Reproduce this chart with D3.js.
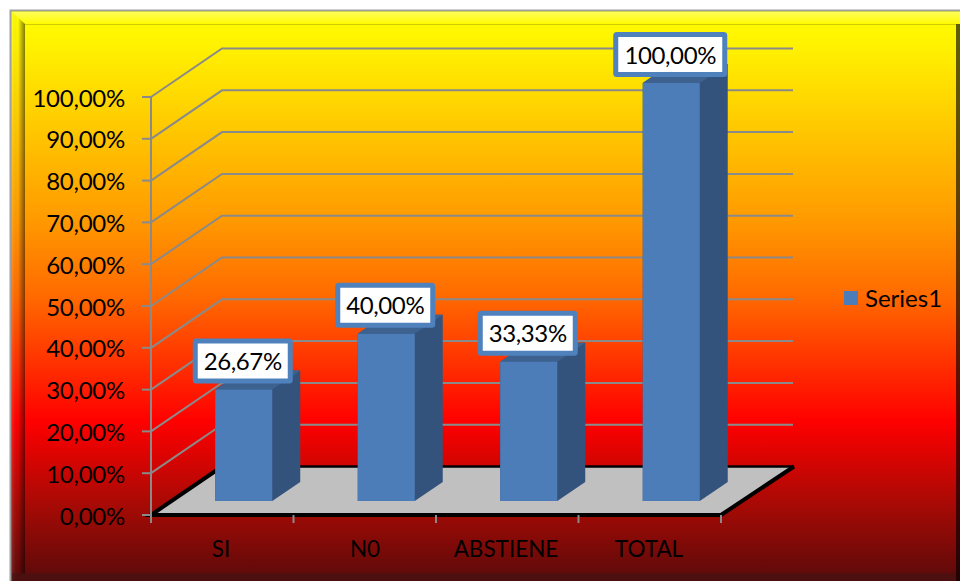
<!DOCTYPE html>
<html><head><meta charset="utf-8">
<script src="https://cdn.jsdelivr.net/npm/d3@7"></script>
<style>html,body{margin:0;padding:0;background:#fff}svg{display:block}text{font-family:Lato,"Open Sans",sans-serif;fill:#000}</style>
</head><body><svg id="c" width="960" height="581"></svg>
<script>
const categories = ["SI","N0","ABSTIENE","TOTAL"];
const values = [26.67,40,33.33,100];
const labels = ["26,67%","40,00%","33,33%","100,00%"];
const ticks = [0,10,20,30,40,50,60,70,80,90,100];
const tickLabels = ["0,00%","10,00%","20,00%","30,00%","40,00%","50,00%","60,00%","70,00%","80,00%","90,00%","100,00%"];
const seriesName = "Series1";

const W=960,H=581;
const svg=d3.select("#c");
const defs=svg.append("defs");
const g=defs.append("linearGradient").attr("id","bg").attr("x1",0).attr("x2",0).attr("y1",0).attr("y2",1);
[[0,"#ffff00"],[0.06,"#fff200"],[0.36,"#ff9c00"],[0.5,"#ff6a00"],[0.72,"#ff0000"],[0.87,"#a50a05"],[1,"#5a0a0a"]]
 .forEach(d=>g.append("stop").attr("offset",d[0]).attr("stop-color",d[1]));
const lb=defs.append("linearGradient").attr("id","lb");
lb.append("stop").attr("offset",0).attr("stop-color","#fff").attr("stop-opacity",.12);
lb.append("stop").attr("offset",.45).attr("stop-color","#000").attr("stop-opacity",0);
lb.append("stop").attr("offset",1).attr("stop-color","#000").attr("stop-opacity",.5);
const tb=defs.append("linearGradient").attr("id","tb").attr("x1",0).attr("x2",0).attr("y1",0).attr("y2",1);
tb.append("stop").attr("offset",0).attr("stop-color","#fff").attr("stop-opacity",.35);
tb.append("stop").attr("offset",1).attr("stop-color","#fff").attr("stop-opacity",0);

// frame
svg.append("rect").attr("x",11).attr("y",11).attr("width",W-11).attr("height",H-11).attr("fill","url(#bg)");
svg.append("path").attr("d","M10.5,581V10.5H960").attr("fill","none").attr("stroke","#a0a0a0").attr("stroke-width",2);
svg.append("path").attr("d","M12,12H960V24H25Z").attr("fill","url(#tb)");
svg.append("path").attr("d","M12,12L25,24V573L12,581Z").attr("fill","url(#lb)");
svg.append("path").attr("d","M25,24.5H956").attr("stroke","#000").attr("stroke-opacity",.18).attr("fill","none");
svg.append("rect").attr("x",956).attr("y",24).attr("width",4).attr("height",H-24).attr("fill","#000").attr("fill-opacity",.62);
svg.append("rect").attr("x",12).attr("y",573).attr("width",944).attr("height",8).attr("fill","#401414").attr("fill-opacity",.55);

// scales
const y=d3.scaleLinear().domain([0,100]).range([515,97]);
const x=d3.scaleBand().domain(categories).range([151,721]);
const depth={x:71,y:-48.5};
const barInset={x:21.5,y:-14};
const barW=57, barD={x:28,y:-19};

// floor
svg.append("path").attr("d",`M${x.range()[0]},${y(0)}L${x.range()[0]+depth.x},${y(0)+depth.y}H${x.range()[1]+depth.x}L${x.range()[1]},${y(0)}Z`)
 .attr("fill","#c0c0c0").attr("stroke","none");
svg.append("path").attr("d",`M${x.range()[0]+depth.x},${y(0)+depth.y}H${x.range()[1]+depth.x+2}`).attr("stroke","#000").attr("stroke-width",2.5);
svg.append("path").attr("d",`M${x.range()[0]+depth.x},${y(0)+depth.y}L${x.range()[0]},${y(0)}H${x.range()[1]}L${x.range()[1]+depth.x+2},${y(0)+depth.y}`)
 .attr("fill","none").attr("stroke","#000").attr("stroke-width",4);

// gridlines
ticks.slice(1).forEach(t=>{
 svg.append("path").attr("d",`M${x.range()[0]},${y(t)}L${x.range()[0]+depth.x},${y(t)+depth.y}H${x.range()[1]+depth.x+1}`)
  .attr("fill","none").attr("stroke","#8a8a8a").attr("stroke-width",2);
});
// axes
const grey="#8a8a8a";
svg.append("path").attr("d",`M151,${y(100)}V522`).attr("stroke",grey).attr("stroke-width",2);
ticks.forEach((t,i)=>{
 svg.append("line").attr("x1",142).attr("x2",151).attr("y1",y(t)).attr("y2",y(t)).attr("stroke",grey).attr("stroke-width",2);
 svg.append("text").attr("x",125).attr("y",y(t)+9.5).attr("text-anchor","end").attr("font-size",24).attr("letter-spacing",-0.25).text(tickLabels[i]);
});
[...categories.map(c=>x(c)),x.range()[1]].forEach(v=>{
 svg.append("line").attr("x1",v).attr("x2",v).attr("y1",515).attr("y2",523).attr("stroke",grey).attr("stroke-width",2);
});
const catX=[221,365,506,649];
categories.forEach((c,i)=>{
 svg.append("text").attr("x",catX[i]).attr("y",557).attr("font-size",22.5).attr("text-anchor","middle").text(c);
});

// bars
const base=y(0)+barInset.y;
categories.forEach((c,i)=>{
 const bx=x(c)+(x.bandwidth()-barW)/2+barInset.x, top=y(values[i])+barInset.y;
 svg.append("path").attr("d",`M${bx+barW},${base}l${barD.x},${barD.y}V${top+barD.y}H${bx+barD.x}L${bx},${top}V${base}Z`).attr("fill","#34537c");
 svg.append("path").attr("d",`M${bx},${top}l${barD.x},${barD.y}h${barW}l${-barD.x},${-barD.y}Z`).attr("fill","#3e6290");
 svg.append("rect").attr("x",bx).attr("y",top).attr("width",barW).attr("height",base-top).attr("fill","#4c7db8");
});
// data labels
const labelW=[95,95,95,109];
categories.forEach((c,i)=>{
 const cx=x(c)+x.bandwidth()/2+barInset.x-1, top=y(values[i])+barInset.y;
 const h=40, w=labelW[i], by=top-h-8.5;
 svg.append("rect").attr("x",cx-w/2).attr("y",by).attr("width",w).attr("height",h).attr("fill","#fff").attr("stroke","#4f81bd").attr("stroke-width",5).attr("rx",1);
 svg.append("text").attr("x",cx).attr("y",by+29).attr("text-anchor","middle").attr("font-size",24).attr("letter-spacing",-0.4).text(labels[i]);
});
// legend
svg.append("rect").attr("x",844).attr("y",291).attr("width",14).attr("height",14).attr("fill","#4c7db8");
svg.append("text").attr("x",865).attr("y",307).attr("font-size",24).text(seriesName);
</script></body></html>
